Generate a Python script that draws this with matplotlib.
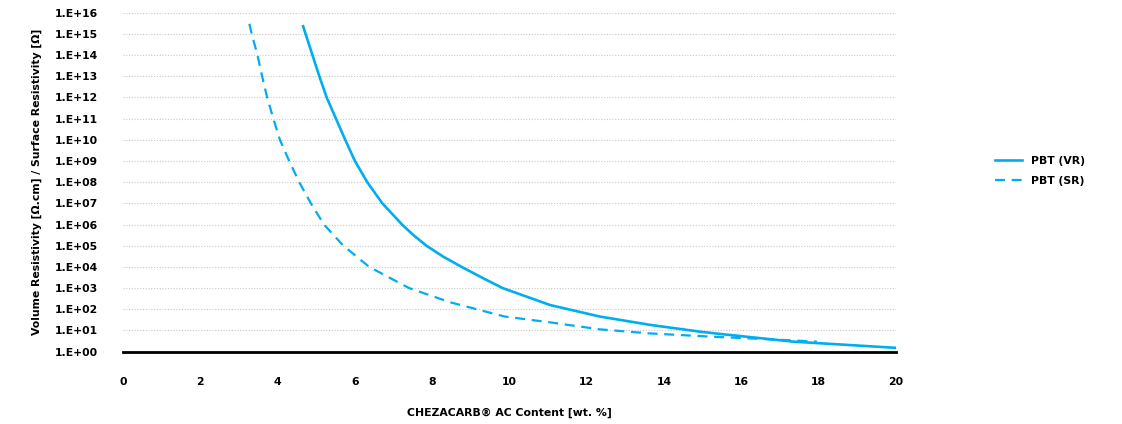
import matplotlib
matplotlib.use("Agg")
import matplotlib.pyplot as plt
from matplotlib.ticker import FixedLocator, FuncFormatter
import numpy as np

# PBT volume resistivity (solid) and surface resistivity (dashed)
vr_content = [4.66, 5.08, 5.27, 5.51, 5.75, 6.00, 6.32, 6.71, 7.22, 7.51,
              7.85, 8.29, 8.76, 9.32, 9.82, 11.05, 11.57, 12.34, 13.64, 14.93,
              15.45, 17.34, 20.0]
vr_value = [2.3e15, 1e13, 1e12, 1e11, 1e10, 1e9, 1e8, 1e7, 1e6, 3.2e5,
            1e5, 3.0e4, 1e4, 2.9e3, 1e3, 158.0, 95.0, 45.0, 18.2, 8.7,
            6.8, 2.95, 1.5]

sr_content = [3.27, 3.33, 3.48, 3.60, 3.73, 3.89, 4.06, 4.30, 4.56, 4.86,
              5.20, 5.70, 6.37, 7.40, 8.46, 9.15, 9.88, 11.05, 12.34, 13.64,
              15.27, 16.48, 17.95]
sr_value = [3.0e15, 1e15, 1e14, 1e13, 1e12, 1e11, 1e10, 1e9, 1e8, 1e7,
            1e6, 1e5, 1e4, 1e3, 214.0, 100.0, 45.0, 24.0, 11.2, 7.2,
            5.0, 4.0, 2.95]

x_ticks = [0, 2, 4, 6, 8, 10, 12, 14, 16, 18, 20]
y_exps = list(range(0, 17))

blue = "#00AEEF"
plt.rcParams["font.family"] = ["DejaVu Sans"]
plt.rcParams["font.weight"] = "bold"

fig = plt.figure(figsize=(11.22, 4.24), dpi=100)
ax = fig.add_axes([0.1096, 0.1708, 0.689, 0.7992])

ax.plot(vr_content, vr_value, color=blue, lw=1.9, label="PBT (VR)")
ax.plot(sr_content, sr_value, color=blue, lw=1.6, dashes=(4.5, 3.0), label="PBT (SR)")

ax.set_yscale("log")
ax.set_ylim(1, 1e16)
ax.set_xlim(0, 20)
ax.yaxis.set_major_locator(FixedLocator([10.0 ** e for e in y_exps]))
ax.yaxis.set_minor_locator(FixedLocator([]))
ax.yaxis.set_major_formatter(FuncFormatter(lambda v, p: "1.E+%02d" % round(np.log10(v))))
ax.set_xticks(x_ticks)
ax.set_xticklabels([str(t) for t in x_ticks])

ax.grid(axis="y", color="#c8c8c8", ls=(0, (1, 1.5)), lw=0.8)
ax.set_axisbelow(True)
for s in ["top", "right", "left"]:
    ax.spines[s].set_visible(False)
ax.spines["bottom"].set_linewidth(2.0)
ax.spines["bottom"].set_color("black")
ax.tick_params(axis="both", length=0, labelsize=7.8)
ax.tick_params(axis="y", pad=18)
ax.tick_params(axis="x", pad=18)

ax.set_xlabel("CHEZACARB® AC Content [wt. %]", fontsize=7.8, fontweight="bold", labelpad=15)
ax.set_ylabel("Volume Resistivity [Ω.cm] / Surface Resistivity [Ω]", fontsize=7.8,
              fontweight="bold", labelpad=9)

fig.legend(loc="center left", bbox_to_anchor=(0.878, 0.597), frameon=False,
           fontsize=7.8, handlelength=2.5, labelspacing=0.9)

fig.savefig("out.png", dpi=100)
